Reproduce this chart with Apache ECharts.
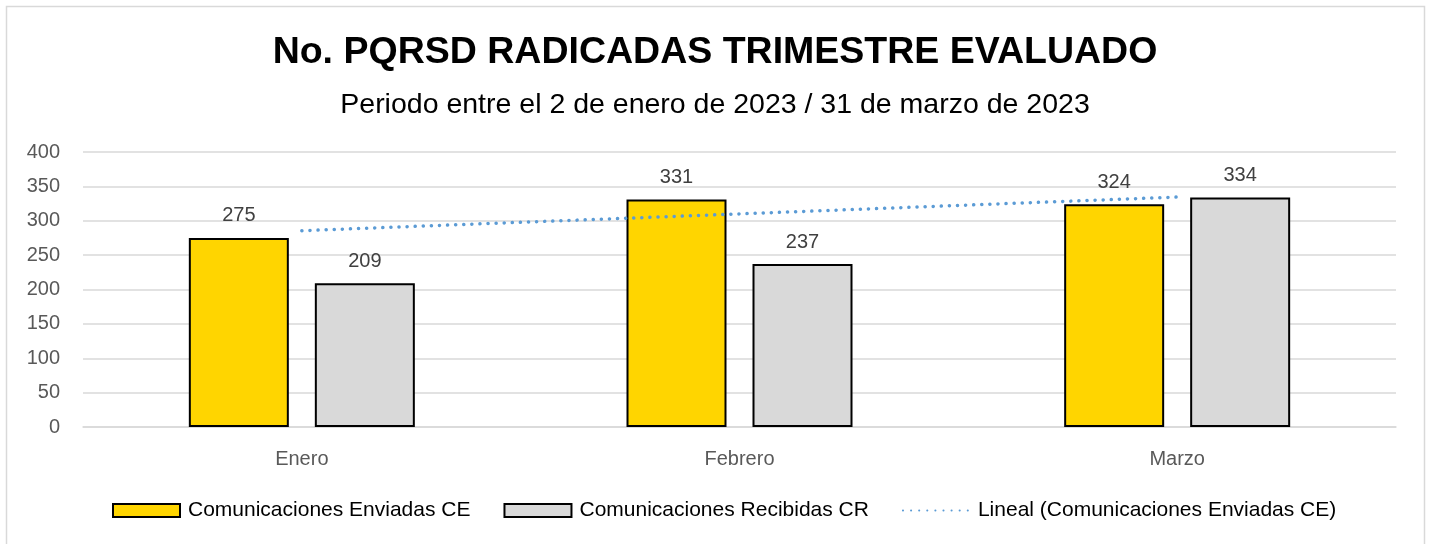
<!DOCTYPE html>
<html><head><meta charset="utf-8">
<script src="https://cdn.jsdelivr.net/npm/echarts@6/dist/echarts.min.js"></script>
<style>html,body{margin:0;padding:0;background:#fff}#c{width:1430px;height:544px}</style>
</head><body><div id="c"></div>
<script>
var categories = ['Enero', 'Febrero', 'Marzo'];
var enviadasCE = [275, 331, 324];
var recibidasCR = [209, 237, 334];
var linealCE = [285.5, 310, 334.5];
var yTicks = [0, 50, 100, 150, 200, 250, 300, 350, 400];
var titleText = 'No. PQRSD RADICADAS TRIMESTRE EVALUADO';
var subtitleText = 'Periodo entre el 2 de enero de 2023 / 31 de marzo de 2023';
var seriesNames = ['Comunicaciones Enviadas CE', 'Comunicaciones Recibidas CR', 'Lineal (Comunicaciones Enviadas CE)'];

var chart = echarts.init(document.getElementById('c'));
var font = 'Liberation Sans, Arial, sans-serif';
chart.setOption({
  animation: false,
  graphic: [{type:'rect', shape:{x:6.5,y:6.5,width:1418,height:560}, style:{fill:'none', stroke:'#D9D9D9', lineWidth:1.5}, silent:true}],
  title: [
    {text: titleText, left:'center', top:29, textStyle:{fontFamily:font, fontSize:37.5, fontWeight:'bold', color:'#000'}},
    {text: subtitleText, left:'center', top:86, textStyle:{fontFamily:font, fontSize:28.5, fontWeight:'normal', color:'#000'}}
  ],
  legend: {
    bottom: 18, left: 107, itemWidth: 67, itemHeight: 13, itemGap: 33,
    textStyle:{fontFamily:font, fontSize:21, color:'#000', padding:[0,0,0,3]},
    data: [
      {name: seriesNames[0], icon:'rect'},
      {name: seriesNames[1], icon:'rect'},
      {name: seriesNames[2], itemStyle:{opacity:0}}
    ]
  },
  grid: {left:83, right:34, top:152, bottom:117},
  xAxis: {
    type:'category', data: categories,
    axisLine:{show:true, lineStyle:{color:'#D9D9D9', width:1.5}},
    axisTick:{show:false},
    axisLabel:{fontFamily:font, fontSize:20, color:'#595959', margin:22}
  },
  yAxis: {
    type:'value', min:0, max:400, interval:50,
    axisLine:{show:false}, axisTick:{show:false},
    splitLine:{lineStyle:{color:'#D9D9D9', width:1.5}},
    axisLabel:{fontFamily:font, fontSize:20, color:'#595959', margin:23,
      formatter: function(v){ return yTicks.indexOf(v) >= 0 ? String(v) : ''; }}
  },
  series: [
    {name: seriesNames[0], type:'bar', data: enviadasCE, barWidth:100, barGap:'26%',
     itemStyle:{color:'#FFD500', borderColor:'#000', borderWidth:2},
     label:{show:true, position:'top', distance:12, fontFamily:font, fontSize:20, color:'#404040'}},
    {name: seriesNames[1], type:'bar', data: recibidasCR, barWidth:100,
     itemStyle:{color:'#D9D9D9', borderColor:'#000', borderWidth:2},
     label:{show:true, position:'top', distance:12, fontFamily:font, fontSize:20, color:'#404040'}},
    {name: seriesNames[2], type:'line', data: linealCE, symbol:'none', z:5,
     lineStyle:{color:'#5B9BD5', width:3.5, type:[0.1,8], cap:'round'},
     itemStyle:{color:'#5B9BD5'}}
  ]
});
</script></body></html>
